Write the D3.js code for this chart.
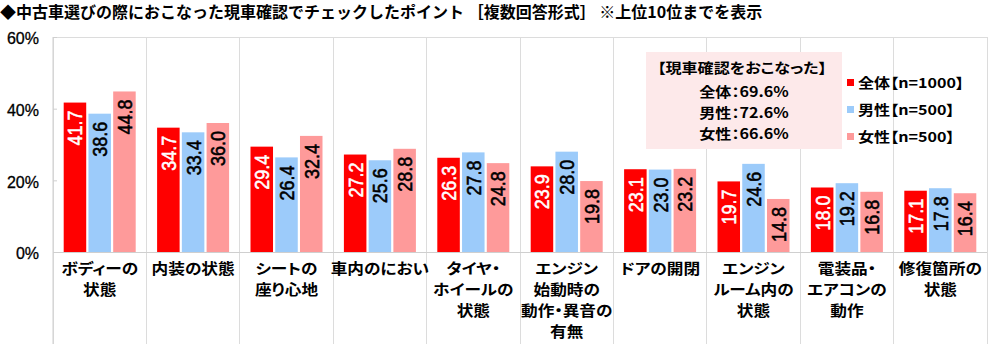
<!DOCTYPE html>
<html>
<head>
<meta charset="utf-8">
<script src="https://cdn.jsdelivr.net/npm/d3@7"></script>
<style>
  html, body { margin: 0; padding: 0; background: #ffffff; }
  svg { display: block; }
  text { font-family: "Liberation Sans", Arial, "Noto Sans CJK JP", sans-serif; }
  .jp { font-family: "Noto Sans CJK JP", sans-serif; font-feature-settings: "palt"; }
</style>
</head>
<body>
<svg id="chart" width="1000" height="344"></svg>
<script>
// Survey: points checked when inspecting a used car (top 10, multiple answers)
const categories = [
  ["ボディーの", "状態"],
  ["内装の状態"],
  ["シートの", "座り心地"],
  ["車内のにおい"],
  ["タイヤ・", "ホイールの", "状態"],
  ["エンジン", "始動時の", "動作・異音の", "有無"],
  ["ドアの開閉"],
  ["エンジン", "ルーム内の", "状態"],
  ["電装品・", "エアコンの", "動作"],
  ["修復箇所の", "状態"]
];
const seriesNames = ["全体【n=1000】", "男性【n=500】", "女性【n=500】"];
const totalValues = [41.7, 34.7, 29.4, 27.2, 26.3, 23.9, 23.1, 19.7, 18.0, 17.1];
const maleValues  = [38.6, 33.4, 26.4, 25.6, 27.8, 28.0, 23.0, 24.6, 19.2, 17.8];
const femaleValues = [44.8, 36.0, 32.4, 28.8, 24.8, 19.8, 23.2, 14.8, 16.8, 16.4];
const yTicks = [0, 20, 40, 60];
const noteLines = ["【現車確認をおこなった】", "全体：69.6%", "男性：72.6%", "女性：66.6%"];
const titleText = "◆中古車選びの際におこなった現車確認でチェックしたポイント ［複数回答形式］ ※上位10位までを表示";

const colors = ["#ff0000", "#9ccbfa", "#fe9a9a"];
const labelColors = ["#ffffff", "#000000", "#000000"];
const series = [totalValues, maleValues, femaleValues];

const svg = d3.select("#chart");
const plot = { left: 53, right: 987, top: 37, bottom: 252 };
const stretch = 1.15;

const x = d3.scaleBand()
  .domain(d3.range(categories.length))
  .range([plot.left, plot.right])
  .paddingInner(0).paddingOuter(0);

const y = d3.scaleLinear().domain([0, 60]).range([plot.bottom, plot.top]);

const groupW = 72;
const x1 = d3.scaleBand()
  .domain(d3.range(series.length))
  .range([-groupW / 2, groupW / 2])
  .paddingInner(0.09);

// Title
svg.append("text")
  .attr("class", "jp")
  .attr("x", 0).attr("y", 18)
  .attr("font-size", 16).attr("font-weight", "bold")
  .style("font-feature-settings", "normal")
  .attr("fill", "#000")
  .text(titleText);

// Frame: category separators, top line, axis lines
const grid = svg.append("g").attr("stroke", "#dcdcdc").attr("stroke-width", 1).attr("shape-rendering", "crispEdges");
d3.range(categories.length + 1).forEach(i => {
  const xx = i < categories.length ? x(i) : plot.right;
  grid.append("line")
    .attr("x1", xx).attr("x2", xx)
    .attr("y1", plot.top).attr("y2", 344);
});
grid.append("line").attr("x1", plot.left).attr("x2", plot.right).attr("y1", plot.top).attr("y2", plot.top);

// Y axis
const yAxis = d3.axisLeft(y).tickValues(yTicks).tickFormat(d => d + "%").tickSize(-4).tickPadding(14);
const ya = svg.append("g").attr("transform", `translate(${plot.left},0)`).call(yAxis);
ya.select(".domain").attr("stroke", "#cfcfcf").attr("d", `M0,${plot.top}V344`);
ya.selectAll(".tick line").attr("stroke", "#cfcfcf");
ya.selectAll(".tick text")
  .attr("font-size", 16).attr("fill", "#000")
  .attr("font-family", "Liberation Sans, Arial, sans-serif")
  .attr("stroke", "#000").attr("stroke-width", 0.3)
  .attr("dy", "0.42em");

// Baseline
svg.append("line")
  .attr("x1", plot.left).attr("x2", plot.right)
  .attr("y1", y(0)).attr("y2", y(0))
  .attr("stroke", "#cfcfcf").attr("shape-rendering", "crispEdges");

// Bars
const groups = svg.append("g").selectAll("g")
  .data(categories.map((c, i) => i))
  .join("g")
  .attr("transform", i => `translate(${x(i) + x.bandwidth() / 2},0)`);

groups.each(function(i) {
  const g = d3.select(this);
  series.forEach((vals, s) => {
    const v = vals[i];
    g.append("rect")
      .attr("x", x1(s)).attr("width", x1.bandwidth())
      .attr("y", y(v)).attr("height", y(0) - y(v))
      .attr("fill", colors[s]);
    g.append("text")
      .attr("transform", `translate(${x1(s) + x1.bandwidth() / 2},${y(v) + 8}) rotate(-90) scale(1,${stretch})`)
      .attr("text-anchor", "end")
      .attr("dy", "0.36em")
      .attr("font-size", 18)
      .attr("fill", labelColors[s])
      .attr("stroke", labelColors[s]).attr("stroke-width", 0.5)
      .text(v.toFixed(1));
  });
});

// Category labels
const lineY = [269, 290, 311, 332];
groups.each(function(i) {
  const g = d3.select(this);
  categories[i].forEach((line, k) => {
    g.append("text")
      .attr("class", "jp")
      .attr("transform", `translate(0,${lineY[k]}) scale(${stretch},1)`)
      .attr("text-anchor", "middle")
      .attr("dy", "0.36em")
      .attr("font-size", 14.5).attr("font-weight", "bold")
      .attr("fill", "#000")
      .text(line);
  });
});

// Note box
const note = svg.append("g");
note.append("rect")
  .attr("x", 646).attr("y", 52).attr("width", 196).attr("height", 97)
  .attr("fill", "#fde9ea");
const noteY = [68, 92, 113, 134];
noteLines.forEach((t, k) => {
  note.append("text")
    .attr("class", "jp")
    .attr("transform", `translate(${k === 0 ? 742 : 744},${noteY[k]}) scale(${stretch},1)`)
    .attr("text-anchor", "middle")
    .attr("dy", "0.36em")
    .attr("font-size", 14).attr("font-weight", "bold")
    .attr("fill", "#000")
    .text(t);
});

// Legend
const legendY = [83, 110, 137];
const legend = svg.append("g");
seriesNames.forEach((name, s) => {
  legend.append("rect")
    .attr("x", 847).attr("y", legendY[s] - 4).attr("width", 7).attr("height", 7)
    .attr("fill", colors[s]);
  legend.append("text")
    .attr("class", "jp")
    .attr("transform", `translate(858,${legendY[s]}) scale(${stretch},1)`)
    .attr("dy", "0.36em")
    .attr("font-size", 14).attr("font-weight", "bold")
    .attr("fill", "#000")
    .text(name);
});
</script>
</body>
</html>
